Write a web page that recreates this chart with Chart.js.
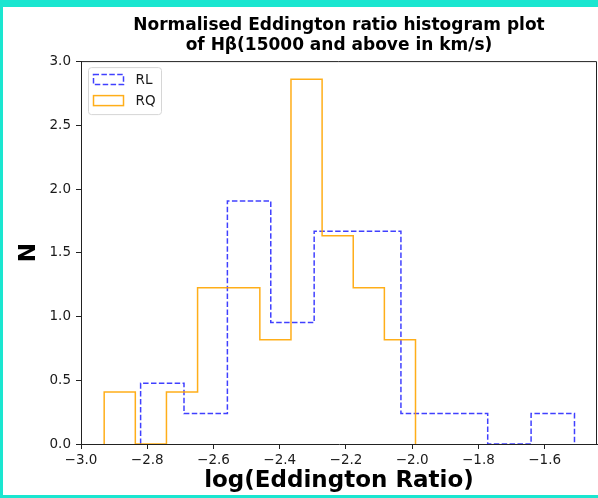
<!DOCTYPE html>
<html>
<head>
<meta charset="utf-8">
<script src="https://cdn.jsdelivr.net/npm/chart.js@4.4.1/dist/chart.umd.min.js"></script>
<style>
  html, body { margin: 0; padding: 0; background: #1ae6d0; }
  body { width: 598px; height: 498px; position: relative; overflow: hidden; }
  #wrap { position: absolute; left: 3px; top: 7px; width: 595px; height: 488px; background: #fff; }
</style>
</head>
<body>
<div id="wrap"><canvas id="hist" width="595" height="488"></canvas></div>
<script>
// histogram bin edges (log Eddington ratio) and normalised counts
const rlEdges = [-2.820, -2.689, -2.558, -2.427, -2.296, -2.165, -2.034, -1.903, -1.772, -1.641, -1.510];
const rlHeights = [0.477, 0.239, 1.909, 0.954, 1.670, 1.670, 0.239, 0.239, 0, 0.239];
const rqEdges = [-2.930, -2.836, -2.742, -2.648, -2.554, -2.460, -2.366, -2.272, -2.178, -2.084, -1.990];
const rqHeights = [0.409, 0, 0.409, 1.227, 1.227, 0.818, 2.864, 1.636, 1.227, 0.818];

const xTicks = [-3.0, -2.8, -2.6, -2.4, -2.2, -2.0, -1.8, -1.6];
const yTicks = [0.0, 0.5, 1.0, 1.5, 2.0, 2.5, 3.0];

// outline like matplotlib histtype='step'
function stepOutline(edges, heights) {
  const pts = [{x: edges[0], y: 0}];
  heights.forEach((h, i) => {
    pts.push({x: edges[i], y: h});
    pts.push({x: edges[i + 1], y: h});
  });
  pts.push({x: edges[edges.length - 1], y: 0});
  return pts;
}

const fmt = v => v.toFixed(1).replace('-', '\u2212');
const tickFont = {family: '"DejaVu Sans"', size: 13.5};

// legend inside the axes + top/right spines
const boxLegend = {
  id: 'boxLegend',
  afterDatasetsDraw(chart) {
    const {ctx, chartArea: a} = chart;
    ctx.save();
    ctx.strokeStyle = '#222';
    ctx.lineWidth = 1;
    ctx.beginPath();
    ctx.moveTo(a.left, a.top + 0.5);
    ctx.lineTo(a.right - 0.5, a.top + 0.5);
    ctx.lineTo(a.right - 0.5, a.bottom);
    ctx.stroke();

    const x0 = a.left + 7.5, y0 = a.top + 6.5;
    ctx.beginPath();
    ctx.roundRect(x0, y0, 73, 47, 3);
    ctx.fillStyle = 'rgba(255,255,255,0.8)';
    ctx.fill();
    ctx.strokeStyle = '#d6d6d6';
    ctx.stroke();
    chart.data.datasets.forEach((ds, i) => {
      const py = y0 + 7 + i * 21;
      ctx.setLineDash(ds.borderDash || []);
      ctx.strokeStyle = ds.borderColor;
      ctx.lineWidth = 1.5;
      ctx.strokeRect(x0 + 5, py, 30, 10);
      ctx.setLineDash([]);
      ctx.fillStyle = '#1a1a1a';
      ctx.font = '13.5px "DejaVu Sans"';
      ctx.textBaseline = 'middle';
      ctx.fillText(ds.label, x0 + 47, py + 5.5);
    });
    ctx.restore();
  }
};

new Chart(document.getElementById('hist'), {
  type: 'line',
  data: {
    datasets: [{
      label: 'RL',
      data: stepOutline(rlEdges, rlHeights),
      borderColor: 'rgba(0,0,255,0.75)',
      borderDash: [5.5, 2.4],
      borderWidth: 1.5,
      order: 1
    }, {
      label: 'RQ',
      data: stepOutline(rqEdges, rqHeights),
      borderColor: 'rgba(255,165,0,0.9)',
      borderWidth: 1.5,
      order: 0
    }]
  },
  options: {
    responsive: false,
    animation: false,
    devicePixelRatio: 1,
    elements: {point: {radius: 0}, line: {tension: 0, fill: false}},
    layout: {padding: {right: 1}},
    plugins: {
      legend: {display: false},
      tooltip: {enabled: false},
      title: {
        display: true,
        fullSize: false,
        text: ['Normalised Eddington ratio histogram plot', 'of H\u03b2(15000 and above in km/s)'],
        color: '#000',
        font: {family: '"DejaVu Sans"', size: 17, weight: 'bold', lineHeight: 1.15},
        padding: {top: 9, bottom: 6}
      }
    },
    scales: {
      x: {
        type: 'linear',
        min: -3.0,
        max: -1.442,
        afterFit: s => { s.height = 51; },
        afterBuildTicks: s => { s.ticks = xTicks.map(v => ({value: v})); },
        ticks: {callback: fmt, font: tickFont, color: '#1a1a1a', padding: 3, maxRotation: 0, autoSkip: false},
        grid: {drawOnChartArea: false, tickLength: 5, color: '#222'},
        border: {color: '#222', width: 1},
        title: {
          display: true,
          text: 'log(Eddington Ratio)',
          color: '#000',
          font: {family: '"DejaVu Sans"', size: 23, weight: 'bold', lineHeight: 1.2},
          padding: {top: 0, bottom: 0}
        }
      },
      y: {
        min: 0,
        max: 3.007,
        afterFit: s => { s.width = 78; },
        afterBuildTicks: s => { s.ticks = yTicks.map(v => ({value: v})); },
        ticks: {callback: fmt, font: tickFont, color: '#1a1a1a', padding: 5, autoSkip: false},
        grid: {drawOnChartArea: false, tickLength: 5, color: '#222'},
        border: {color: '#222', width: 1},
        title: {
          display: true,
          text: 'N',
          color: '#000',
          font: {family: '"DejaVu Sans"', size: 23, weight: 'bold', lineHeight: 1.2},
          padding: {top: 12, bottom: 0}
        }
      }
    }
  },
  plugins: [boxLegend]
});
</script>
</body>
</html>
